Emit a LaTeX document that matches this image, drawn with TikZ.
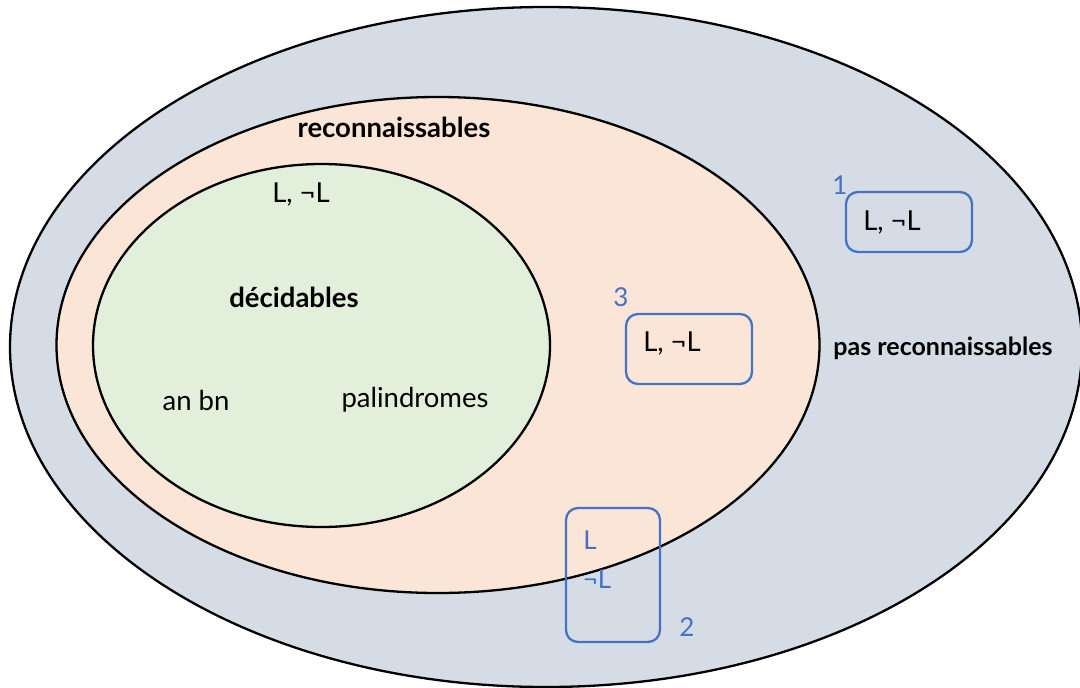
\documentclass[tikz,border=0pt]{standalone}
\usepackage{fontspec}
\setmainfont{Lato}
\usetikzlibrary{shapes.geometric}
\definecolor{outerc}{HTML}{D6DCE5}
\definecolor{midc}{HTML}{FBE5D6}
\definecolor{innerc}{HTML}{E2EFDA}
\definecolor{blu}{HTML}{4472C4}
\begin{document}
\begin{tikzpicture}[x=1pt,y=-1pt,
  setell/.style={ellipse, draw=black, line width=2.3pt, inner sep=0pt},
  lbox/.style={draw=blu, line width=2.3pt, rounded corners=12pt, inner sep=0pt},
  txt/.style={font=\fontsize{27.5}{32}\selectfont, inner sep=0pt},
  btxt/.style={font=\fontsize{27.5}{32}\selectfont\bfseries, inner sep=0pt},
  num/.style={font=\fontsize{26}{30}\selectfont, text=blu, inner sep=0pt}]
\clip (0,0) rectangle (1080,688);
\useasboundingbox (0,0) rectangle (1080,688);
\node[setell, fill=outerc, minimum width=1072pt, minimum height=680pt] (outer) at (546,347) {};
\node[setell, fill=midc, minimum width=763pt, minimum height=496pt] (mid) at (438,345) {};
\node[setell, fill=innerc, minimum width=457pt, minimum height=363pt] (inner) at (321.5,345.5) {};
\node[btxt] (trec) at (394,127) {reconnaissables};
\node[txt] (tl0) at (301,195) {L, ¬L};
\node[btxt] (tdec) at (294,297) {décidables};
\node[txt] (tanbn) at (196,400) {an bn};
\node[txt] (tpal) at (415,400) {palindromes};
\node[btxt, font=\fontsize{25}{30}\selectfont\bfseries] (tpas) at (943,348) {pas reconnaissables};
\node[lbox, minimum width=126pt, minimum height=60pt] (b1) at (909,222) {};
\node[txt] (tb1) at (892,223) {L, ¬L};
\node[num] (n1) at (840,185) {1};
\node[lbox, minimum width=126pt, minimum height=70pt] (b3) at (689,349) {};
\node[txt] (tb3) at (672,344) {L, ¬L};
\node[num] (n3) at (621,297) {3};
\node[lbox, minimum width=94pt, minimum height=134pt] (b2) at (613,575) {};
\node[num] (tb2a) at (590,540) {L};
\node[num] (tb2b) at (597,579) {¬L};
\node[num] (n2) at (687,627) {2};
\end{tikzpicture}
\end{document}
